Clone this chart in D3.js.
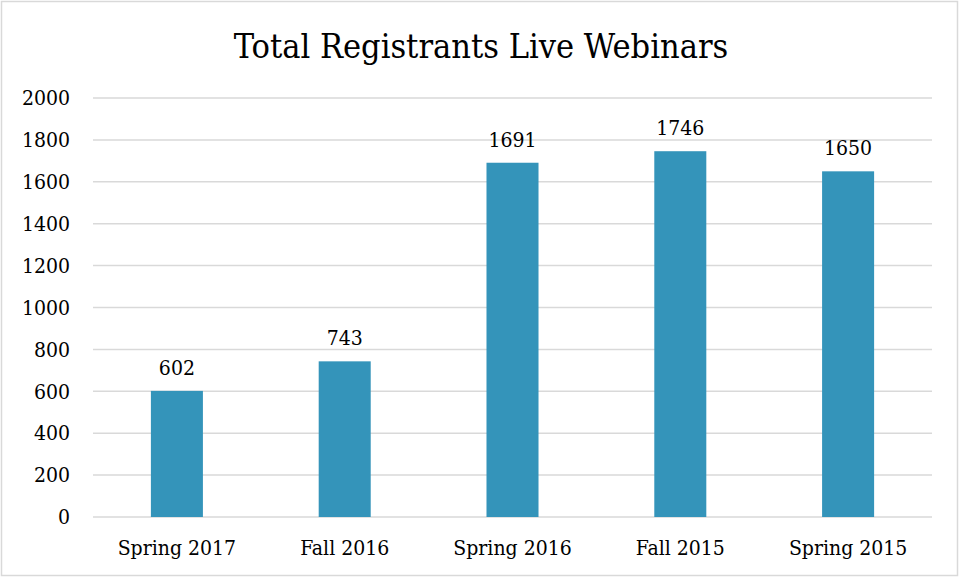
<!DOCTYPE html>
<html>
<meta charset="utf-8">
<script src="https://d3js.org/d3.v7.min.js"></script>
<style>
  body { margin: 0; background: #fff; }
  text { font-family: "DejaVu Serif Condensed", "DejaVu Serif", serif; fill: #000; }
</style>
<body>
<div id="chartContainer"></div>
<script>
  var WIDTH = 959, HEIGHT = 577;
  var FONT = "'DejaVu Serif Condensed', 'DejaVu Serif', serif";

  // chart data
  var terms = ["Spring 2017", "Fall 2016", "Spring 2016", "Fall 2015", "Spring 2015"];
  var registrants = [602, 743, 1691, 1746, 1650];
  var yTicks = [0, 200, 400, 600, 800, 1000, 1200, 1400, 1600, 1800, 2000];

  var svg = d3.select("#chartContainer").append("svg")
      .attr("width", WIDTH).attr("height", HEIGHT);

  // outer chart border
  svg.append("rect")
      .attr("x", 1.5).attr("y", 1.5)
      .attr("width", WIDTH - 3).attr("height", HEIGHT - 3)
      .attr("fill", "#fff").attr("stroke", "#d9d9d9").attr("stroke-width", 1.5);

  var x = d3.scaleBand().domain(terms).range([93, 932])
      .paddingInner(0.69).paddingOuter(0.345);
  var y = d3.scaleLinear().domain([0, 2000]).range([517, 98]);

  // gridlines
  svg.append("g").selectAll("line").data(yTicks).enter().append("line")
      .attr("x1", 93).attr("x2", 932)
      .attr("y1", function (d) { return y(d); })
      .attr("y2", function (d) { return y(d); })
      .attr("stroke", "#d9d9d9").attr("stroke-width", 1.5);

  // y axis labels
  var yAxis = svg.append("g").attr("transform", "translate(93,0)")
      .call(d3.axisLeft(y).tickValues(yTicks).tickFormat(d3.format("d"))
        .tickSize(0).tickPadding(23));
  yAxis.select(".domain").remove();
  yAxis.selectAll("text")
      .style("font-family", FONT)
      .style("font-size", "21px").attr("fill", "#000");

  // x axis labels
  var xAxis = svg.append("g").attr("transform", "translate(0,517)")
      .call(d3.axisBottom(x).tickSize(0).tickPadding(23));
  xAxis.select(".domain").remove();
  xAxis.selectAll("text")
      .style("font-family", FONT)
      .style("font-size", "21px").attr("fill", "#000");

  // bars
  svg.append("g").selectAll("rect").data(registrants).enter().append("rect")
      .attr("x", function (d, i) { return x(terms[i]); })
      .attr("y", function (d) { return y(d); })
      .attr("width", x.bandwidth())
      .attr("height", function (d) { return y(0) - y(d); })
      .attr("fill", "#3494ba");

  // value labels
  svg.append("g").selectAll("text").data(registrants).enter().append("text")
      .attr("x", function (d, i) { return x(terms[i]) + x.bandwidth() / 2; })
      .attr("y", function (d) { return y(d) - 16; })
      .attr("text-anchor", "middle")
      .style("font-size", "21px")
      .text(function (d) { return d; });

  // title
  svg.append("text")
      .attr("x", 481).attr("y", 58)
      .attr("text-anchor", "middle")
      .style("font-size", "34px")
      .text("Total Registrants Live Webinars");
</script>
</body>
</html>
